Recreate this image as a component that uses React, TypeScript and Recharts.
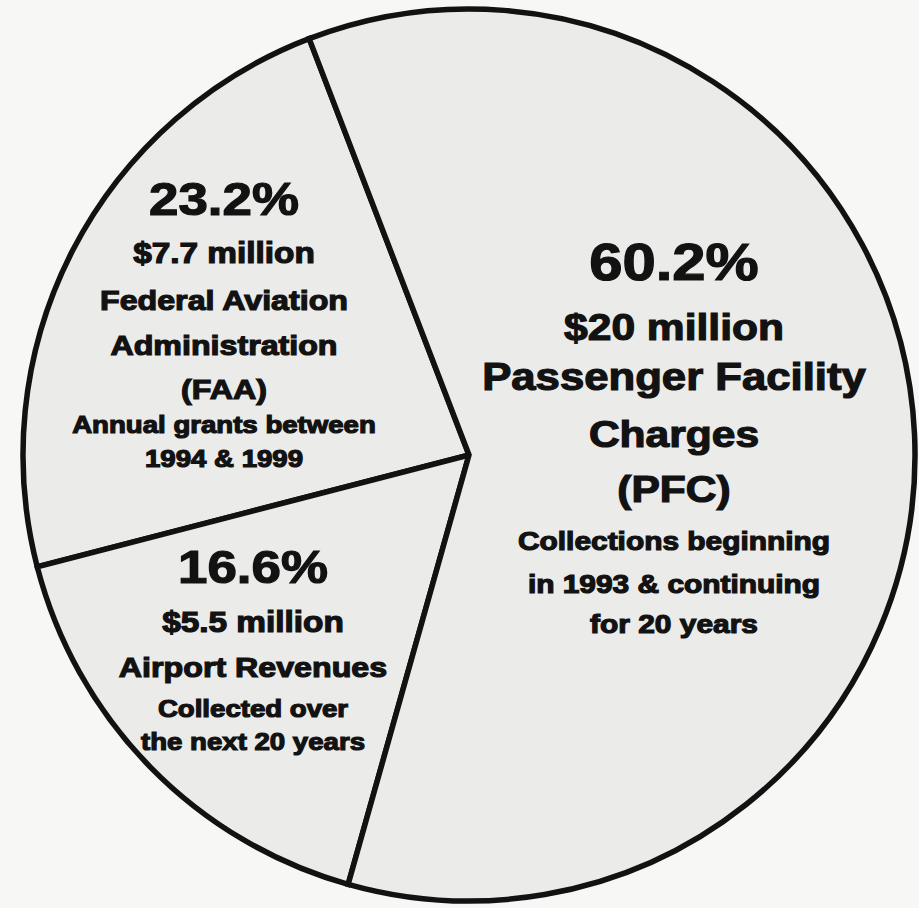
import { Cell, Pie, PieChart } from "recharts";

// funding sources, counter-clockwise from the upper-left spoke
const SOURCES = ["FAA", "Airport Revenues", "PFC"];
const SHARES = [23.2, 16.6, 60.2];
const AMOUNTS = ["$7.7 million", "$5.5 million", "$20 million"];

const FAA_NOTES = ["Federal Aviation", "Administration", "(FAA)", "Annual grants between", "1994 & 1999"];
const AIRPORT_NOTES = ["Airport Revenues", "Collected over", "the next 20 years"];
const PFC_NOTES = ["Passenger Facility", "Charges", "(PFC)", "Collections beginning", "in 1993 & continuing", "for 20 years"];

const W = 919;
const H = 908;
const INK = "#121212";

const chart = SOURCES.map((name, i) => ({ name, value: SHARES[i] }));

// [fontSize, baseline] for each row of a block
const BLOCKS = [
  {
    x: 224,
    lines: [`${SHARES[0]}%`, AMOUNTS[0], ...FAA_NOTES],
    rows: [[46, 215], [29, 263], [28, 310], [28, 355], [28, 399], [24, 433], [24, 467]],
  },
  {
    x: 253,
    lines: [`${SHARES[1]}%`, AMOUNTS[1], ...AIRPORT_NOTES],
    rows: [[46, 583], [29, 632], [28, 677], [24, 717], [24, 750]],
  },
  {
    x: 674,
    lines: [`${SHARES[2]}%`, AMOUNTS[2], ...PFC_NOTES],
    rows: [[52, 280], [37, 340], [38, 390], [37, 447], [37, 502], [26, 550], [26, 593], [26, 633]],
  },
];

export default function App() {
  return (
    <div style={{ position: "absolute", left: 0, top: 0, width: W, height: H, background: "#f7f7f6" }}>
      <PieChart width={W} height={H} margin={{ top: 0, right: 0, bottom: 0, left: 0 }}>
        <Pie
          data={chart}
          dataKey="value"
          cx={469}
          cy={455}
          outerRadius={446}
          startAngle={111}
          endAngle={471}
          stroke={INK}
          strokeWidth={5.5}
          isAnimationActive={false}
        >
          {chart.map((d) => (
            <Cell key={d.name} fill="#ebebea" />
          ))}
        </Pie>
      </PieChart>
      <svg width={W} height={H} style={{ position: "absolute", left: 0, top: 0, pointerEvents: "none" }}>
        {BLOCKS.map((b, bi) => (
          <g key={bi} transform={`translate(${b.x},0) scale(1.15,1)`}>
            {b.lines.map((t, i) => (
              <text
                key={i}
                x={0}
                y={b.rows[i][1]}
                textAnchor="middle"
                fontFamily="'Liberation Sans', Arial, sans-serif"
                fontWeight={700}
                fontSize={b.rows[i][0]}
                fill={INK}
                stroke={INK}
                strokeWidth={1.2}
              >
                {t}
              </text>
            ))}
          </g>
        ))}
      </svg>
    </div>
  );
}
